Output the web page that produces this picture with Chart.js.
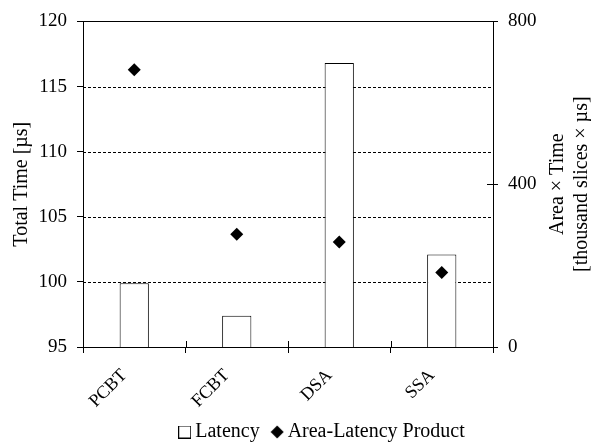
<!DOCTYPE html>
<html>
<head>
<meta charset="utf-8">
<script src="https://cdn.jsdelivr.net/npm/chart.js@4/dist/chart.umd.min.js"></script>
<style>
  html, body { margin: 0; padding: 0; background: #fff; }
  #wrap { width: 591px; height: 446px; }
</style>
</head>
<body>
<div id="wrap"><canvas id="c" width="591" height="446"></canvas></div>
<script>
// Categories and measured values
const categories = ['PCBT', 'FCBT', 'DSA', 'SSA'];
const latencyUs = [99.9, 97.4, 116.8, 102.1];          // total time, µs (left axis)
const areaLatency = [681, 277, 258, 183];              // thousand slices × µs (right axis)
const leftTicks = [95, 100, 105, 110, 115, 120];
const rightTicks = [0, 400, 800];
const leftTitle = 'Total Time [µs]';
const rightTitle = ['Area × Time', '[thousand slices × µs]'];

const FONT = '"Liberation Serif", "Times New Roman", serif';
const PLOT_BOTTOM = 347;
const LEGEND_SHIFT_X = 29;
const LEGEND_SHIFT_Y = -3;

// Small legend markers: open square for the bars, filled diamond for the points
function makeMarker(kind) {
  const c = document.createElement('canvas');
  if (kind === 'square') {
    c.width = 13; c.height = 13;
    const g = c.getContext('2d');
    g.fillStyle = '#fff';
    g.fillRect(0, 0, 13, 13);
    g.strokeStyle = '#000';
    g.lineWidth = 1;
    g.strokeRect(0.5, 0.5, 12, 12);
  } else {
    c.width = 14; c.height = 14;
    const g = c.getContext('2d');
    g.fillStyle = '#000';
    g.beginPath();
    g.moveTo(7, 0.5); g.lineTo(13.5, 7); g.lineTo(7, 13.5); g.lineTo(0.5, 7);
    g.closePath();
    g.fill();
  }
  return c;
}
const legendMarkers = [makeMarker('square'), makeMarker('diamond')];

// Dashed gridlines, solid top rule, inward tick marks and the two-line right title
const framePlugin = {
  id: 'frame',
  afterLayout(chart) {
    // the legend row sits a little right of the canvas centre
    const L = chart.legend;
    if (L) {
      L.left += LEGEND_SHIFT_X; L.right += LEGEND_SHIFT_X;
      L.top += LEGEND_SHIFT_Y; L.bottom += LEGEND_SHIFT_Y;
    }
  },
  beforeDatasetsDraw(chart) {
    const { ctx, chartArea: a, scales } = chart;
    ctx.save();
    ctx.strokeStyle = '#000';
    ctx.lineWidth = 1;
    ctx.setLineDash([3, 2]);
    leftTicks.slice(1, -1).forEach(v => {
      const y = Math.round(scales.y.getPixelForValue(v)) + 0.5;
      ctx.beginPath();
      ctx.moveTo(a.left, y);
      ctx.lineTo(a.right, y);
      ctx.stroke();
    });
    ctx.restore();
  },
  afterDraw(chart) {
    const { ctx, chartArea: a, scales } = chart;
    ctx.save();
    ctx.strokeStyle = '#000';
    ctx.lineWidth = 1;
    // top rule
    const yt = Math.round(scales.y.getPixelForValue(leftTicks[leftTicks.length - 1])) + 0.5;
    ctx.beginPath();
    ctx.moveTo(a.left, yt);
    ctx.lineTo(a.right, yt);
    ctx.stroke();
    // inward ticks at category boundaries
    for (let i = 0; i <= categories.length; i++) {
      const x = Math.round(scales.x.getPixelForValue(i - 0.5)) + 0.5;
      ctx.beginPath();
      ctx.moveTo(x, a.bottom);
      ctx.lineTo(x, a.bottom - 6);
      ctx.stroke();
    }
    // inward ticks on the right axis
    rightTicks.forEach(v => {
      const y = Math.round(scales.y2.getPixelForValue(v)) + 0.5;
      ctx.beginPath();
      ctx.moveTo(a.right, y);
      ctx.lineTo(a.right - 6, y);
      ctx.stroke();
    });
    // right axis title, two lines, reading bottom to top
    const cy = (a.top + a.bottom) / 2;
    ctx.fillStyle = '#000';
    ctx.font = '20px ' + FONT;
    ctx.textAlign = 'center';
    ctx.textBaseline = 'middle';
    [[558, rightTitle[0]], [582, rightTitle[1]]].forEach(([x, t]) => {
      ctx.save();
      ctx.translate(x, cy);
      ctx.rotate(-Math.PI / 2);
      ctx.fillText(t, 0, 0);
      ctx.restore();
    });
    ctx.restore();
  }
};

new Chart(document.getElementById('c'), {
  type: 'bar',
  data: {
    labels: categories,
    datasets: [
      {
        label: 'Latency',
        data: latencyUs,
        yAxisID: 'y',
        backgroundColor: '#fff',
        borderColor: '#000',
        borderWidth: 1,
        barPercentage: 0.285,
        categoryPercentage: 1,
        order: 2
      },
      {
        type: 'line',
        label: 'Area-Latency Product',
        data: areaLatency,
        yAxisID: 'y2',
        showLine: false,
        pointStyle: 'rectRot',
        pointRadius: 6.5,
        pointBackgroundColor: '#000',
        pointBorderColor: '#000',
        backgroundColor: '#000',
        borderColor: '#000',
        borderWidth: 0,
        order: 1
      }
    ]
  },
  options: {
    responsive: false,
    animation: false,
    devicePixelRatio: 1,
    layout: { padding: { top: 14, left: 0, right: 0, bottom: 0 } },
    plugins: {
      tooltip: { enabled: false },
      legend: {
        position: 'bottom',
        maxHeight: 38,
        labels: {
          usePointStyle: true,
          boxWidth: 1,
          boxHeight: 10,
          padding: 17,
          color: '#000',
          font: { family: FONT, size: 20 },
          sort: (a, b) => a.datasetIndex - b.datasetIndex,
          generateLabels(chart) {
            const items = Chart.defaults.plugins.legend.labels.generateLabels(chart);
            items.forEach(it => { it.pointStyle = legendMarkers[it.datasetIndex]; });
            return items;
          }
        }
      }
    },
    scales: {
      x: {
        type: 'category',
        offset: true,
        grid: {
          offset: true,
          drawOnChartArea: false,
          tickLength: 6,
          color: '#000'
        },
        border: { color: '#000', width: 1 },
        ticks: {
          color: '#000',
          font: { family: FONT, size: 18 },
          minRotation: 45,
          maxRotation: 45,
          labelOffset: -10,
          padding: 12
        },
        afterFit(s) {
          s.height = 446 - PLOT_BOTTOM - s.chart.legend.height;
        }
      },
      y: {
        position: 'left',
        min: 95,
        max: 120,
        afterBuildTicks(s) { s.ticks = leftTicks.map(v => ({ value: v })); },
        grid: { drawOnChartArea: false, tickLength: 6, color: '#000' },
        border: { color: '#000', width: 1 },
        ticks: {
          color: '#000',
          font: { family: FONT, size: 19 },
          padding: 10
        },
        title: {
          display: true,
          text: leftTitle,
          color: '#000',
          font: { family: FONT, size: 20 },
          padding: { top: 10, bottom: 0 }
        },
        afterFit(s) { s.width = 83; }
      },
      y2: {
        position: 'right',
        min: 0,
        max: 800,
        afterBuildTicks(s) { s.ticks = rightTicks.map(v => ({ value: v })); },
        grid: { drawOnChartArea: false, tickLength: 5, color: '#000' },
        border: { color: '#000', width: 1 },
        ticks: {
          color: '#000',
          font: { family: FONT, size: 19 },
          padding: 10
        },
        afterFit(s) { s.width = 98; }
      }
    }
  },
  plugins: [framePlugin]
});
</script>
</body>
</html>
